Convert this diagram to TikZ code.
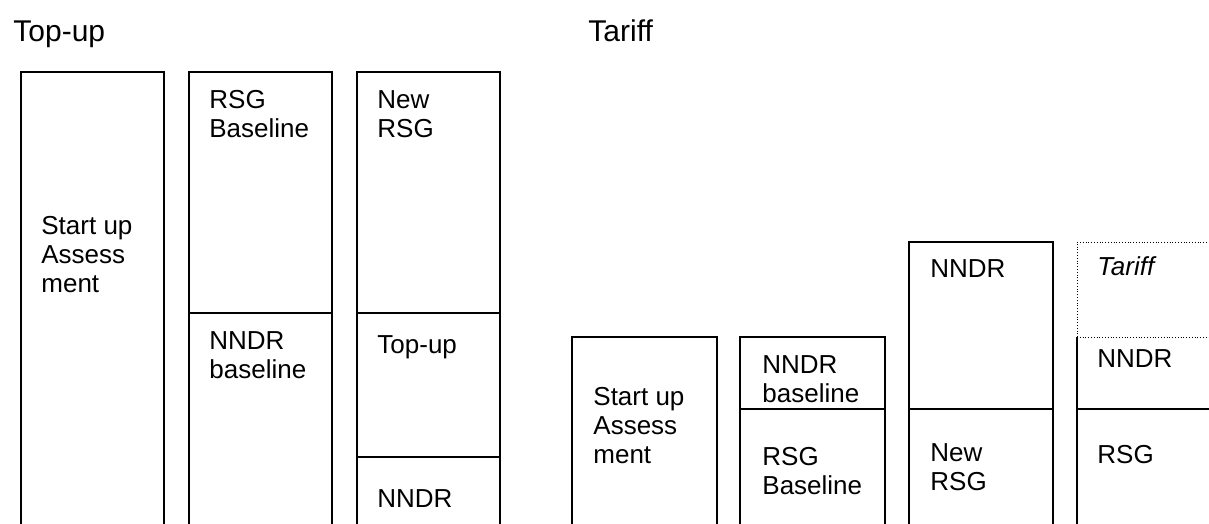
\documentclass[tikz,border=0pt]{standalone}
\usepackage{fontspec}
\setmainfont{Liberation Sans}
\begin{document}
\begin{tikzpicture}[x=0.5pt,y=-0.5pt,
box/.style={line width=1pt},
split/.style={line width=0.4pt,densely dotted},
part/.style={inner sep=0pt,anchor=base west,align=left,font=\fontsize{13}{14.5}\selectfont},
heading/.style={inner sep=0pt,anchor=base west,font=\fontsize{15}{18}\selectfont}]
\useasboundingbox (0,0) rectangle (1209,524);
\node[heading] (topuptitle) at (13,42) {Top-up};
\node[heading] (tarifftitle) at (588,42) {Tariff};
% top-up columns
\draw[box] (21,524) |- (164,72) -- (164,524);
\draw[box] (189,524) |- (332,72) -- (332,524);
\draw[box] (189,313) -- (332,313);
\draw[box] (357,524) |- (500,72) -- (500,524);
\draw[box] (357,313) -- (500,313);
\draw[box] (357,457) -- (500,457);
\node[part] (startA) at (41,292) {Start up\\Assess\\ment};
\node[part] (rsgA) at (209,138) {RSG\\Baseline};
\node[part] (nndrA) at (209,378) {NNDR\\baseline};
\node[part] (newrsgA) at (377,138) {New\\RSG};
\node[part] (topupA) at (377,353) {Top-up};
\node[part] (nndrB) at (377,507) {NNDR};
% tariff columns
\draw[box] (572,524) |- (717,337) -- (717,524);
\draw[box] (740,524) |- (885,337) -- (885,524);
\draw[box] (740,409) -- (885,409);
\draw[box] (909,524) |- (1053,242) -- (1053,524);
\draw[box] (909,409) -- (1053,409);
\draw[split] (1077,337) |- (1209,242);
\draw[split] (1077,337) -- (1209,337);
\draw[box] (1077,524) -- (1077,337);
\draw[box] (1077,409) -- (1209,409);
\node[part] (startB) at (593,463) {Start up\\Assess\\ment};
\node[part] (nndrC) at (762,402) {NNDR\\baseline};
\node[part] (rsgB) at (762,494) {RSG\\Baseline};
\node[part] (nndrD) at (930,277) {NNDR};
\node[part] (newrsgB) at (930,490) {New\\RSG};
\node[part] (tariffA) at (1097,275) {\textit{Tariff}};
\node[part] (nndrE) at (1097,367) {NNDR};
\node[part] (rsgC) at (1097,463) {RSG};
\end{tikzpicture}
\end{document}
